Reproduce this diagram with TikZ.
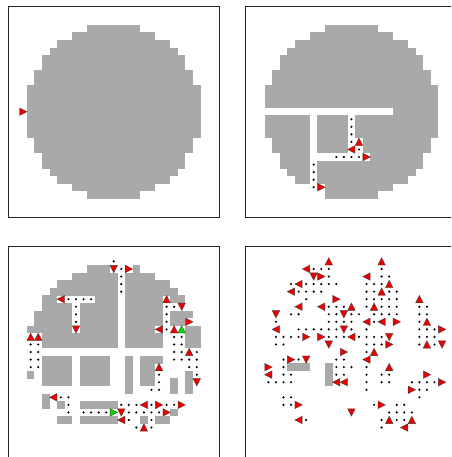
\documentclass[tikz,border=0pt]{standalone}
\begin{document}
\begin{tikzpicture}[x=1pt,y=-1pt,
  boxline/.style={draw=black!85,line width=0.9pt},
  gcell/.style={fill={rgb,255:red,169;green,169;blue,169}},
  tri/.style={fill={rgb,255:red,235;green,0;blue,0},draw=black!75,line width=0.35pt,line join=miter},
  gtri/.style={fill={rgb,255:red,0;green,220;blue,0},draw=black!75,line width=0.35pt,line join=miter}]
\clip (0,0) rectangle (451,457);
\fill[white] (0,0) rectangle (451,457);
% panel frames
\draw[boxline] (8,6) rectangle (219.3,217.7);
\draw[boxline] (245.7,6) rectangle (457,217.7);
\draw[boxline] (8,246.3) rectangle (219.3,457.6);
\draw[boxline] (245.7,246.3) rectangle (457,457.6);
\newcommand\greyrows[1]{\foreach \r/\a/\b in {#1}{\fill[gcell] (\a,\r) rectangle (\b+1,\r+1.03);}}
\newcommand\celldots[1]{\foreach \c/\r in {#1}{\fill (\c+0.5,\r+0.5) circle (1.2pt);}}
\newcommand\triR[2][tri]{\foreach \c/\r in {#2}{\filldraw[#1] (\c+0.02,\r+0.0) -- (\c+0.02,\r+1.0) -- (\c+1.0,\r+0.5) -- cycle;}}
\newcommand\triL[2][tri]{\foreach \c/\r in {#2}{\filldraw[#1] (\c+0.98,\r+0.0) -- (\c+0.98,\r+1.0) -- (\c+0.0,\r+0.5) -- cycle;}}
\newcommand\triU[2][tri]{\foreach \c/\r in {#2}{\filldraw[#1] (\c+0.0,\r+0.98) -- (\c+1.0,\r+0.98) -- (\c+0.5,\r+0.0) -- cycle;}}
\newcommand\triD[2][tri]{\foreach \c/\r in {#2}{\filldraw[#1] (\c+0.0,\r+0.02) -- (\c+1.0,\r+0.02) -- (\c+0.5,\r+1.0) -- cycle;}}
% ---------- panel 1 ----------
\begin{scope}[shift={(26.9,24.9)},x=7.55pt,y=-7.55pt]
\greyrows{0/8/14,1/6/16,2/4/18,3/3/19,4/2/20,5/2/20,6/1/21,7/1/21,8/0/22,9/0/22,10/0/22,11/0/22,12/0/22,13/0/22,14/0/22,15/1/21,16/1/21,17/2/20,18/2/20,19/3/19,20/4/18,21/6/16,22/8/14}
\triR{-1/11}
\end{scope}
% ---------- panel 2 ----------
\begin{scope}[shift={(264.6,24.9)},x=7.55pt,y=-7.55pt]
\greyrows{0/8/14,1/6/16,2/4/18,3/3/19,4/2/20,5/2/20,6/1/21,7/1/21,8/0/22,9/0/22,10/0/22,11/17/22,12/0/5,12/7/10,12/12/22,13/0/5,13/7/10,13/12/22,14/0/5,14/7/10,14/12/22,15/1/5,15/7/10,15/13/21,16/1/5,16/7/10,16/13/21,17/2/5,17/14/20,18/2/5,18/7/20,19/3/5,19/7/19,20/4/5,20/7/18,21/8/16,22/8/14}
\celldots{11/12,11/13,11/14,11/15,12/16,9/17,10/17,11/17,12/17,6/18,6/19,6/20,6/21}
\triL{11/16}
\triU{12/15}
\triR{13/17,7/21}
\end{scope}
% ---------- panel 3 ----------
\begin{scope}[shift={(26.9,265.2)},x=7.55pt,y=-7.55pt]
\greyrows{0/8/10,0/14/14,1/6/11,1/13/16,2/4/11,2/13/18,3/3/11,3/13/19,4/2/3,4/9/11,4/13/17,4/19/20,5/2/5,5/7/11,5/13/17,6/1/5,6/7/11,6/13/17,6/19/21,7/1/5,7/7/11,7/13/17,7/19/20,8/0/5,8/7/11,8/13/16,8/21/22,9/2/11,9/13/17,9/21/22,10/2/11,10/13/17,10/21/22,12/2/5,12/7/10,12/13/13,12/15/17,13/2/5,13/7/10,13/13/13,13/15/16,14/0/0,14/2/5,14/7/10,14/13/13,14/15/16,14/21/21,15/2/5,15/7/10,15/13/13,15/15/16,15/19/19,15/21/21,16/13/13,16/19/19,16/21/21,17/2/2,18/2/2,18/4/4,18/7/11,19/19/19,20/4/5,20/7/11,20/15/15,20/17/18}
\celldots{11/-1,12/0,12/1,12/2,12/3,5/4,6/4,7/4,8/4,6/5,18/5,19/5,6/6,18/6,6/7,18/7,18/8,19/9,20/9,0/10,1/10,19/10,20/10,0/11,1/11,19/11,20/11,22/11,0/12,1/12,19/12,20/12,21/12,22/12,0/13,1/13,21/13,22/13,17/14,22/14,17/15,16/16,17/16,4/17,5/17,5/18,12/18,13/18,14/18,16/18,18/18,19/18,5/19,7/19,8/19,9/19,10/19,13/19,14/19,15/19,16/19,17/19,13/20,16/20,14/21,16/21}
\triD{11/0,20/5,6/8,22/15,12/19}
\triR{13/0,21/7,17/18,20/18,18/19}
\triL{4/4,17/8,3/17,15/18,12/20}
\triU{18/4,19/8,0/9,1/9,21/11,17/13,15/21}
\triU[gtri]{20/8}
\triR[gtri]{11/19}
\end{scope}
% ---------- panel 4 ----------
\begin{scope}[shift={(264.6,265.2)},x=7.55pt,y=-7.55pt]
\greyrows{13/3/5,13/8/8,14/8/8,15/8/8}
\celldots{6/0,7/0,8/0,15/0,8/1,15/1,16/1,3/2,5/2,6/2,7/2,8/2,9/2,13/2,14/2,15/2,4/3,5/3,6/3,7/3,13/3,14/3,16/3,17/3,5/4,13/4,14/4,15/4,16/4,17/4,8/5,9/5,10/5,13/5,15/5,16/5,17/5,20/5,21/5,3/6,4/6,8/6,9/6,11/6,12/6,14/6,15/6,16/6,17/6,20/6,21/6,1/7,8/7,9/7,10/7,11/7,14/7,20/7,4/8,5/8,6/8,7/8,8/8,9/8,11/8,13/8,20/8,21/8,22/8,1/9,2/9,3/9,4/9,8/9,9/9,10/9,12/9,13/9,14/9,15/9,20/9,21/9,22/9,1/10,2/10,13/10,14/10,15/10,20/10,22/10,13/11,2/12,4/12,9/12,10/12,2/13,9/13,10/13,11/13,13/13,2/14,3/14,9/14,10/14,13/14,15/14,16/14,0/15,1/15,2/15,3/15,13/15,15/15,16/15,19/15,20/15,21/15,22/15,13/16,20/16,21/16,2/17,3/17,20/17,2/18,3/18,14/18,17/18,18/18,16/19,17/19,18/19,19/19,5/20,15/20,17/20,18/20,15/21}
\triU{8/-1,15/-1,16/2,15/3,20/4,11/5,14/5,21/7,21/10,14/11,16/13,16/20,19/20}
\triL{5/0,13/1,4/2,3/3,4/5,7/5,13/7,15/7,1/8,11/9,13/12,0/14,9/15,10/15,4/20,18/21}
\triD{6/1,1/6,10/6,10/8,16/9,8/10,23/10,5/12,11/19}
\triR{7/1,9/4,17/7,23/8,5/9,7/9,16/10,10/11,3/12,0/13,21/14,23/15,19/16,4/18,15/18}
\end{scope}
\end{tikzpicture}
\end{document}
